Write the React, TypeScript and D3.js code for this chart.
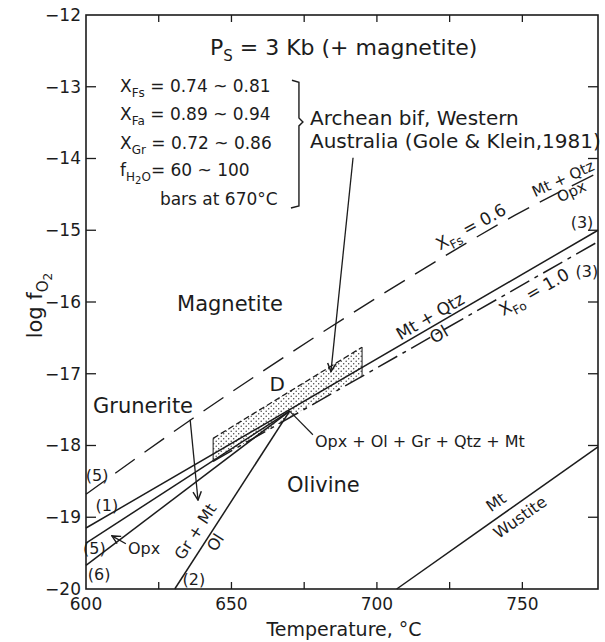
import React from 'react';
import * as d3 from 'd3';

const W = 605;
const H = 642;
const T_DOMAIN: [number, number] = [600, 776];
const L_DOMAIN: [number, number] = [-20, -12];

const xTickValues = [625, 650, 675, 700, 725, 750];
const xTickLabels = [600, 650, 700, 750];
const yTickValues = [-19, -18, -17, -16, -15, -14, -13];
const yTickLabels = [-20, -19, -18, -17, -16, -15, -14, -13, -12];

type P = [number, number];
// Mt + Qtz / Ol boundary, line (1)/(3)
const lineMtQtzOl: P[] = [[600, -19.15], [776, -15.0]];
// X_Fs = 0.6  Mt + Qtz / Opx (dashed), line (5)
const lineXFs06: P[] = [[600, -18.68], [636.8, -17.62], [679.8, -16.46], [717.2, -15.51], [747.5, -14.79], [776, -14.2]];
// line (5) lower, Opx boundary
const line5: P[] = [[600, -19.36], [670, -17.52]];
// line (6)
const line6: P[] = [[600, -19.67], [670, -17.52]];
// line (2) Gr + Mt / Ol
const line2: P[] = [[630.5, -20], [670, -17.52]];
// Mt / Wustite
const lineMtWus: P[] = [[706.8, -20], [776, -18.02]];
// X_Fo = 1.0 (dash-dot)
const lineXFa10: P[] = [[643.7, -18.22], [776, -15.16]];
// Archean bif band
const bandTop: P[] = [[643.7, -17.9], [694.9, -16.63]];
const bandBottom: P[] = [[643.7, -18.22], [694.9, -17.03]];
const pointD: P = [670, -17.52];

export default function App() {
  const x = d3.scaleLinear().domain(T_DOMAIN).range([86, 598]);
  const y = d3.scaleLinear().domain(L_DOMAIN).range([589, 15]);
  const line = d3.line<P>().x(d => x(d[0])).y(d => y(d[1]));
  const curve = d3.line<P>().x(d => x(d[0])).y(d => y(d[1])).curve(d3.curveMonotoneX);
  const ang = (pts: P[]) => {
    const a = pts[0], b = pts[pts.length - 1];
    return (Math.atan2(y(b[1]) - y(a[1]), x(b[0]) - x(a[0])) * 180) / Math.PI;
  };
  const x0 = x(T_DOMAIN[0]), x1 = x(T_DOMAIN[1]);
  const y0 = y(L_DOMAIN[0]), y1 = y(L_DOMAIN[1]);
  const ink = '#1c1c1c';
  const font = 'DejaVu Sans, Verdana, sans-serif';
  const sw = 1.5;

  const bandPoly = [...bandTop, ...bandBottom.slice().reverse()];
  const rotText = (T: number, L: number, a: number, content: React.ReactNode, size = 16) => (
    <text x={x(T)} y={y(L)} transform={`rotate(${a} ${x(T)} ${y(L)})`} fontSize={size}
      textAnchor="middle" dy="0.35em" fill={ink} style={{ whiteSpace: 'pre' }}>{content}</text>
  );
  const aMain = ang(lineMtQtzOl);
  const aFa = ang(lineXFa10);
  const aFs = ang(lineXFs06.slice(3));
  const a2 = ang(line2);
  const aWus = ang(lineMtWus);

  return (
    <svg width={W} height={H} style={{ position: 'absolute', left: 0, top: 0, background: '#fff' }}
      fontFamily={font}>
      <defs>
        <pattern id="stip" width="5" height="5" patternUnits="userSpaceOnUse">
          <circle cx="1.2" cy="1.2" r="0.75" fill="#444" />
          <circle cx="3.7" cy="3.7" r="0.75" fill="#444" />
        </pattern>
        <marker id="arr" viewBox="0 0 10 10" refX="9" refY="5" markerWidth="8" markerHeight="8" orient="auto">
          <path d="M1,1 L9,5 L1,9" fill="none" stroke={ink} strokeWidth="1.4" />
        </marker>
      </defs>

      {/* frame */}
      <rect x={x0} y={y1} width={x1 - x0} height={y0 - y1} fill="none" stroke={ink} strokeWidth={1.6} />
      {xTickValues.map(t => (
        <g key={'xt' + t}>
          <line x1={x(t)} x2={x(t)} y1={y0} y2={y0 - 7} stroke={ink} strokeWidth={1.3} />
          <line x1={x(t)} x2={x(t)} y1={y1} y2={y1 + 7} stroke={ink} strokeWidth={1.3} />
        </g>
      ))}
      {yTickValues.map(v => (
        <g key={'yt' + v}>
          <line x1={x0} x2={x0 + 10} y1={y(v)} y2={y(v)} stroke={ink} strokeWidth={1.3} />
          <line x1={x1} x2={x1 - 10} y1={y(v)} y2={y(v)} stroke={ink} strokeWidth={1.3} />
        </g>
      ))}
      {xTickLabels.map(t => (
        <text key={'xl' + t} x={x(t)} y={y0 + 21} fontSize={17} textAnchor="middle" fill={ink}>{t}</text>
      ))}
      {yTickLabels.map(v => (
        <text key={'yl' + v} x={x0 - 5} y={y(v)} dy="0.35em" fontSize={17} textAnchor="end" fill={ink}>
          {'\u2212' + Math.abs(v)}
        </text>
      ))}
      <text x={(x0 + x1) / 2 + 2} y={y0 + 47} fontSize={19} textAnchor="middle" fill={ink}>Temperature, °C</text>
      <text transform={`translate(${x0 - 44} ${y(-16.05)}) rotate(-90)`} fontSize={21} textAnchor="middle" fill={ink}>
        <tspan>log f</tspan><tspan fontSize={15} dy={6}>O</tspan><tspan fontSize={12} dy={4}>2</tspan>
      </text>

      {/* band */}
      <path d={line(bandPoly) + 'Z'} fill="url(#stip)" stroke="none" />
      <path d={line([bandTop[0], bandBottom[0]])!} stroke={ink} strokeWidth={1} fill="none" />
      <path d={line([bandTop[1], bandBottom[1]])!} stroke={ink} strokeWidth={1} fill="none" />
      <path d={line(bandTop)!} stroke={ink} strokeWidth={1.3} strokeDasharray="6 3" fill="none" />

      {/* phase boundaries */}
      <path d={line(lineMtQtzOl)!} stroke={ink} strokeWidth={sw} fill="none" />
      <path d={curve(lineXFs06)!} stroke={ink} strokeWidth={1.4} strokeDasharray="24 12" fill="none" />
      <path d={line(line5)!} stroke={ink} strokeWidth={sw} fill="none" />
      <path d={line(line6)!} stroke={ink} strokeWidth={sw} fill="none" />
      <path d={line(line2)!} stroke={ink} strokeWidth={sw} fill="none" />
      <path d={line(lineMtWus)!} stroke={ink} strokeWidth={sw} fill="none" />
      <path d={line(lineXFa10)!} stroke={ink} strokeWidth={sw} strokeDasharray="22 6 4 6" fill="none" />

      {/* arrows / leaders */}
      <path d={line([[691.8, -13.99], [684.2, -16.97]])!} stroke={ink} strokeWidth={1.3} fill="none" markerEnd="url(#arr)" />
      <path d={line([[635.8, -17.64], [638.5, -18.76]])!} stroke={ink} strokeWidth={1.3} fill="none" markerEnd="url(#arr)" />
      <path d={line([[613.7, -19.37], [608.9, -19.26]])!} stroke={ink} strokeWidth={1.3} fill="none" markerEnd="url(#arr)" />
      <path d={line([[678.0, -17.85], pointD])!} stroke={ink} strokeWidth={1.2} fill="none" />

      {/* bracket */}
      <path d={`M${x(673.2) - 7},${y(-12.91)} L${x(673.2)},${y(-12.91) + 2} L${x(673.2)},${y(-13.49) - 4} L${x(673.2) + 4},${y(-13.49)} L${x(673.2)},${y(-13.49) + 4} L${x(673.2)},${y(-14.69) - 2} L${x(673.2) - 8},${y(-14.69)}`}
        stroke={ink} strokeWidth={1.4} fill="none" />

      {/* title */}
      <text x={x(642.6)} y={y(-12.56)} fontSize={22} fill={ink} style={{ whiteSpace: 'pre' }}>
        <tspan>P</tspan><tspan fontSize={15} dy={6}>S</tspan><tspan dy={-6}>{' = 3 Kb (+ magnetite)'}</tspan>
      </text>

      {/* composition block */}
      <g fontSize={17} fill={ink} style={{ whiteSpace: 'pre' }}>
        <text x={x(611.7)} y={y(-13.07)}><tspan>X</tspan><tspan fontSize={12} dy={5}>Fs</tspan><tspan dy={-5}>{' = 0.74 ~ 0.81'}</tspan></text>
        <text x={x(611.7)} y={y(-13.46)}><tspan>X</tspan><tspan fontSize={12} dy={5}>Fa</tspan><tspan dy={-5}>{' = 0.89 ~ 0.94'}</tspan></text>
        <text x={x(611.7)} y={y(-13.87)}><tspan>X</tspan><tspan fontSize={12} dy={5}>Gr</tspan><tspan dy={-5}>{' = 0.72 ~ 0.86'}</tspan></text>
        <text x={x(611.7)} y={y(-14.24)}><tspan>f</tspan><tspan fontSize={12} dy={5}>H</tspan><tspan fontSize={10} dy={3}>2</tspan><tspan fontSize={12} dy={-3}>O</tspan><tspan dy={-5}>{'= 60 ~  100'}</tspan></text>
        <text x={x(625.4)} y={y(-14.65)}>bars at 670°C</text>
      </g>

      {/* region labels */}
      <g fontSize={21} fill={ink}>
        <text x={x(631.3)} y={y(-16.13)}>Magnetite</text>
        <text x={x(669.1)} y={y(-18.65)}>Olivine</text>
        <text x={x(602.4)} y={y(-17.55)}>Grunerite</text>
      </g>
      <g fontSize={20} fill={ink} style={{ whiteSpace: 'pre' }}>
        <text x={x(677.0)} y={y(-13.53)}>{'Archean  bif, Western'}</text>
        <text x={x(677.0)} y={y(-13.85)}>Australia (Gole & Klein,1981)</text>
      </g>
      <text x={x(665.7)} y={y(-17.14)} dy="0.35em" fontSize={20} textAnchor="middle" fill={ink}>D</text>
      <text x={x(678.7)} y={y(-18.02)} fontSize={16} fill={ink} style={{ whiteSpace: 'pre' }}>Opx + Ol + Gr + Qtz + Mt</text>

      {/* line labels */}
      <g fontSize={16} fill={ink}>
        <text x={x(603.8)} y={y(-18.41)} dy="0.35em" textAnchor="middle">(5)</text>
        <text x={x(607.2)} y={y(-18.83)} dy="0.35em" textAnchor="middle">(1)</text>
        <text x={x(602.9)} y={y(-19.44)} dy="0.35em" textAnchor="middle">(5)</text>
        <text x={x(604.5)} y={y(-19.79)} dy="0.35em" textAnchor="middle">(6)</text>
        <text x={x(614.4)} y={y(-19.44)} dy="0.35em">Opx</text>
        <text x={x(637.1)} y={y(-19.87)} dy="0.35em" textAnchor="middle">(2)</text>
        <text x={x(770.5)} y={y(-14.89)} dy="0.35em" textAnchor="middle">(3)</text>
        <text x={x(772.2)} y={y(-15.57)} dy="0.35em" textAnchor="middle">(3)</text>
      </g>
      {rotText(637.6, -19.2, a2, 'Gr + Mt', 16)}
      {rotText(644.5, -19.35, a2, 'Ol', 16)}
      {rotText(718.3, -16.2, aMain, 'Mt + Qtz', 17)}
      {rotText(721.3, -16.45, aMain, 'Ol', 17)}
      {rotText(754.0, -15.86, aFa, <><tspan>X</tspan><tspan fontSize={12} dy={5}>Fo</tspan><tspan dy={-5}>{' = 1.0'}</tspan></>, 17)}
      {rotText(732.3, -14.95, aFs, <><tspan>X</tspan><tspan fontSize={12} dy={5}>Fs</tspan><tspan dy={-5}>{' = 0.6'}</tspan></>, 17)}
      {rotText(764.0, -14.28, aFs + 4, 'Mt + Qtz', 15)}
      {rotText(766.9, -14.46, aFs + 4, 'Opx', 15)}
      {rotText(740.9, -18.79, aWus, 'Mt', 16)}
      {rotText(749.2, -19.0, aWus, 'Wustite', 16)}
    </svg>
  );
}
